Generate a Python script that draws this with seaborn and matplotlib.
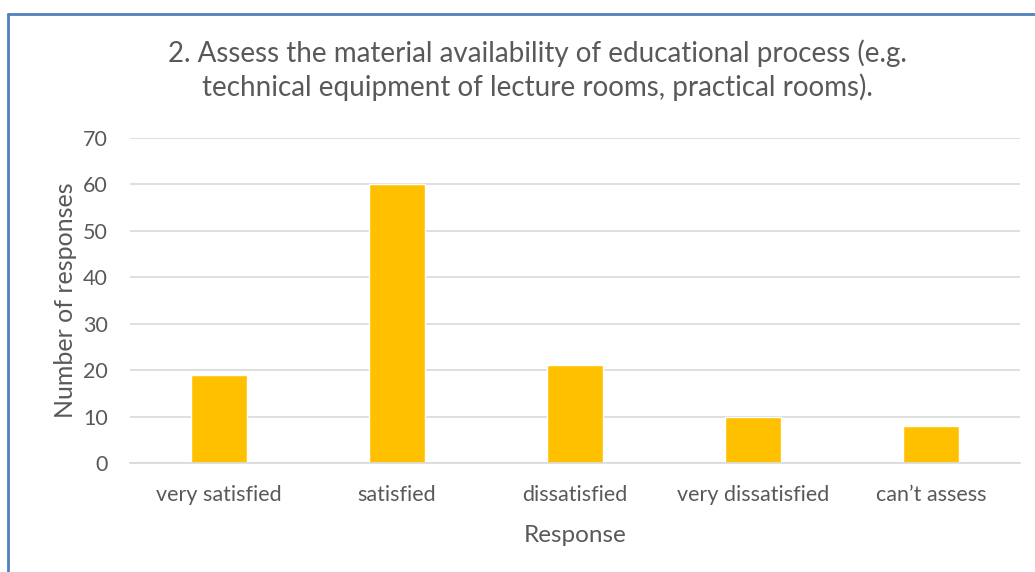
import matplotlib
matplotlib.use("Agg")
import matplotlib.pyplot as plt
from matplotlib.lines import Line2D
import seaborn as sns
import pandas as pd

responses = ["very satisfied", "satisfied", "dissatisfied", "very dissatisfied", "can\u2019t assess"]
counts = [19, 60, 21, 10, 8]
title = ("2. Assess the material availability of educational process (e.g.\n"
         "technical equipment of lecture rooms, practical rooms).")

sns.set_style("white")
plt.rcParams["font.family"] = ["Lato", "DejaVu Sans"]
text_color = "#595959"

df = pd.DataFrame({"Response": responses, "Number of responses": counts})

fig = plt.figure(figsize=(10.35, 5.72), dpi=100)
ax = fig.add_axes([0.1256, 0.1906, 0.86, 0.5681])

sns.barplot(data=df, x="Response", y="Number of responses", color="#FFC000",
            width=0.31, saturation=1, ax=ax)

ax.set_ylim(0, 70)
ax.set_yticks(range(0, 71, 10))
ax.set_xlim(-0.5, len(responses) - 0.5)
ax.yaxis.grid(True, color="#d9d9d9", linewidth=1.2)
ax.set_axisbelow(True)
for s in ["top", "right", "left"]:
    ax.spines[s].set_visible(False)
ax.spines["bottom"].set_color("#d9d9d9")
ax.spines["bottom"].set_linewidth(1.2)
ax.tick_params(axis="both", length=0, labelsize=15.5, colors=text_color)
ax.tick_params(axis="y", pad=16)
ax.tick_params(axis="x", pad=15.5)

ax.set_xlabel("Response", fontsize=17.5, color=text_color, labelpad=15)
ax.set_ylabel("Number of responses", fontsize=18, color=text_color, labelpad=4)

fig.text(0.519, 0.8776, title, ha="center", va="center", fontsize=20,
         color=text_color, linespacing=1.3)

# chart frame (left and top edges only visible)
fig.add_artist(Line2D([8 / 1035, 8 / 1035], [0, 1 - 14 / 572],
                      transform=fig.transFigure, color="#4f81bd", linewidth=2))
fig.add_artist(Line2D([8 / 1035, 1], [1 - 14 / 572, 1 - 14 / 572],
                      transform=fig.transFigure, color="#4f81bd", linewidth=2))

fig.savefig("out.png", dpi=100)
